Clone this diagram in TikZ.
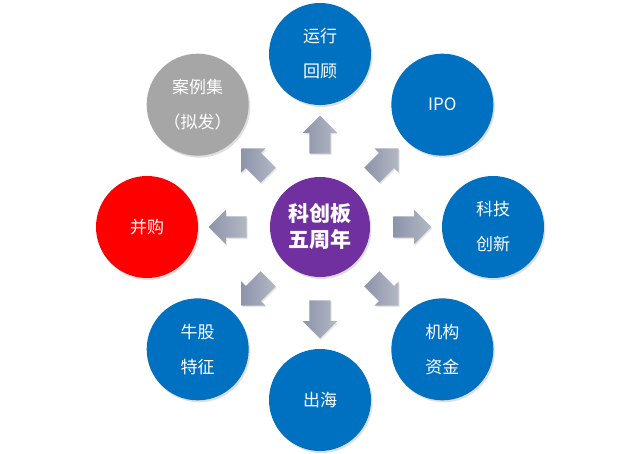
\documentclass[tikz,border=0pt]{standalone}
\usepackage{fontspec}
\newfontfamily\cjk{Noto Sans CJK SC}
\usetikzlibrary{shapes.arrows,shadows,calc}
\definecolor{cblue}{HTML}{0070C0}
\definecolor{cpurple}{HTML}{7030A0}
\definecolor{cred}{HTML}{FF0000}
\definecolor{cgray}{HTML}{A6A6A6}
\definecolor{arrA}{HTML}{8C94AA}
\definecolor{arrB}{HTML}{B4B8C4}
\begin{document}
\begin{tikzpicture}[x=1pt,y=1pt,
  ball/.style={circle,minimum size=102pt,inner sep=0pt,text=white,align=center,
    font=\cjk\fontsize{17}{35}\selectfont,
    drop shadow={opacity=0.25,shadow xshift=1.5pt,shadow yshift=-2pt}},
  hub/.style={ball,fill=cpurple,minimum size=100pt,font=\cjk\bfseries\fontsize{21}{26}\selectfont},
  blockarrow/.style={single arrow,minimum height=38pt,minimum width=34pt,
    inner xsep=0pt,inner ysep=10.5pt,single arrow head extend=6.5pt,
    single arrow head indent=0pt,draw=none,
    left color=arrA,right color=arrB,
    drop shadow={opacity=0.2,shadow xshift=1pt,shadow yshift=-1.5pt}}
]
\path[fill=white] (0,0) rectangle (640,453);
\coordinate (c) at (320,226);
% outer circles
\node[ball,fill=cblue] (top) at ($(c)+(90:173)$) {运行\\回顾};
\node[ball,fill=cblue] (ipo) at ($(c)+(45:173)$) {IPO};
\node[ball,fill=cblue] (tech) at ($(c)+(0:173)$) {科技\\创新};
\node[ball,fill=cblue] (fund) at ($(c)+(-45:173)$) {机构\\资金};
\node[ball,fill=cblue] (sea) at ($(c)+(-90:173)$) {出海};
\node[ball,fill=cblue] (bull) at ($(c)+(-135:173)$) {牛股\\特征};
\node[ball,fill=cred] (ma) at ($(c)+(180:173)$) {并购};
\node[ball,fill=cgray] (case) at ($(c)+(135:173)$) {案例集\\（拟发）};
% hub
\node[hub] (hubc) at (c) {科创板\\五周年};
% arrows
\foreach \a/\n in {90/aT,45/aIPO,0/aR,-45/aF,-90/aB,-135/aBL,180/aL,135/aUL}{
  \node[blockarrow,rotate=\a] (\n) at ($(c)+(\a:87)$) {};
}
\end{tikzpicture}
\end{document}
